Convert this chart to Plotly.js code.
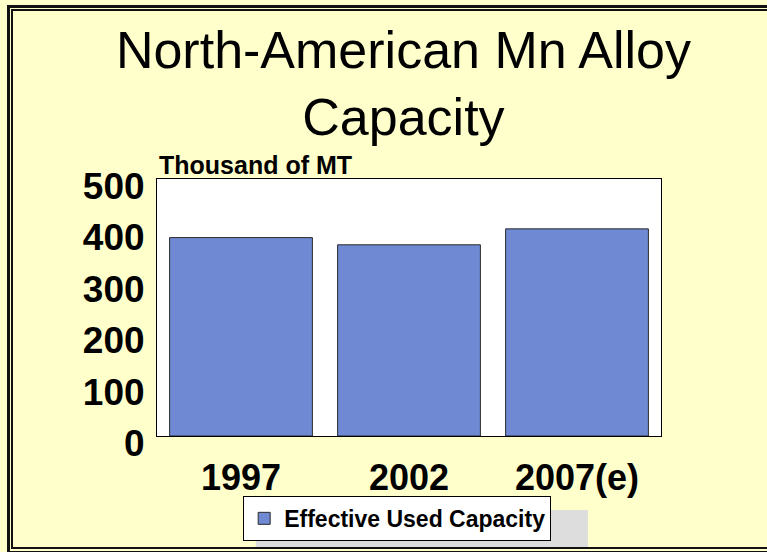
<!DOCTYPE html>
<html>
<head>
<meta charset="utf-8">
<script src="https://cdn.plot.ly/plotly-3.0.1.min.js"></script>
<style>
  html, body { margin: 0; padding: 0; background: #FFFFCC; overflow: hidden; }
  #wrap { position: relative; width: 767px; height: 552px; overflow: hidden; }
  #chart { position: absolute; left: 0; top: 0; width: 767px; height: 552px; }
  .frame { position: absolute; box-sizing: border-box; pointer-events: none; z-index: 5; }
  #outer { left: 7px; top: 5px; width: 900px; height: 549px; border: 3px solid #111; }
  #inner { left: 11px; top: 9px; width: 900px; height: 540px; border: 2px solid #111; }
</style>
</head>
<body>
<div id="wrap">
  <div id="chart"></div>
  <div class="frame" id="outer"></div>
  <div class="frame" id="inner"></div>
</div>
<script>
const categories = ["1997", "2002", "2007(e)"];
const capacity = [386, 372, 403];
const seriesName = "Effective Used Capacity";
const yTicks = [0, 100, 200, 300, 400, 500];

const font = "Arial, 'Liberation Sans', sans-serif";

const trace = {
  type: "bar",
  x: categories,
  y: capacity,
  name: seriesName,
  showlegend: true,
  marker: { color: "#6F89D3", line: { color: "#2a2a2a", width: 1 } },
  hoverinfo: "x+y"
};

const layout = {
  width: 767,
  height: 552,
  paper_bgcolor: "#FFFFCC",
  plot_bgcolor: "#FFFFFF",
  margin: { l: 157, r: 106, t: 179, b: 116, autoexpand: false },
  bargap: 0.15,
  title: {
    text: "North-American Mn Alloy<br>Capacity",
    font: { family: font, size: 52, color: "#000" },
    x: 0.526, xanchor: "center", xref: "container",
    y: 0.877, yanchor: "top", yref: "container"
  },
  xaxis: {
    type: "category",
    showline: true, linecolor: "#000", linewidth: 1, mirror: true,
    showgrid: false, zeroline: false, ticks: "",
    ticklabelstandoff: 10,
    tickfont: { family: font, size: 36, color: "#000", weight: "bold" }
  },
  yaxis: {
    range: [0, 500],
    tickvals: yTicks,
    ticktext: yTicks.map(String),
    showline: true, linecolor: "#000", linewidth: 1, mirror: true,
    showgrid: false, zeroline: false, ticks: "",
    ticklabelstandoff: 4,
    ticklabelshift: 7,
    tickfont: { family: font, size: 37, color: "#000", weight: "bold" }
  },
  showlegend: true,
  legend: {
    x: 0.171, xanchor: "left",
    y: -0.233, yanchor: "top",
    bgcolor: "#FFFFFF",
    bordercolor: "#000",
    borderwidth: 1,
    font: { family: font, size: 23, color: "#000", weight: "bold" },
    itemwidth: 30
  },
  shapes: [
    {
      type: "rect", xref: "paper", yref: "paper",
      x0: 0.196, x1: 0.855, y0: -0.288, y1: -0.44,
      fillcolor: "#DDDDDD", line: { width: 0 }, layer: "above"
    }
  ],
  annotations: [
    {
      text: "Thousand of MT",
      xref: "paper", yref: "paper",
      x: 0.0, xanchor: "left",
      y: 1.0, yanchor: "bottom",
      yshift: -2,
      showarrow: false,
      font: { family: font, size: 25, color: "#000", weight: "bold" }
    }
  ]
};

Plotly.newPlot("chart", [trace], layout, { displayModeBar: false, staticPlot: true });
</script>
</body>
</html>
